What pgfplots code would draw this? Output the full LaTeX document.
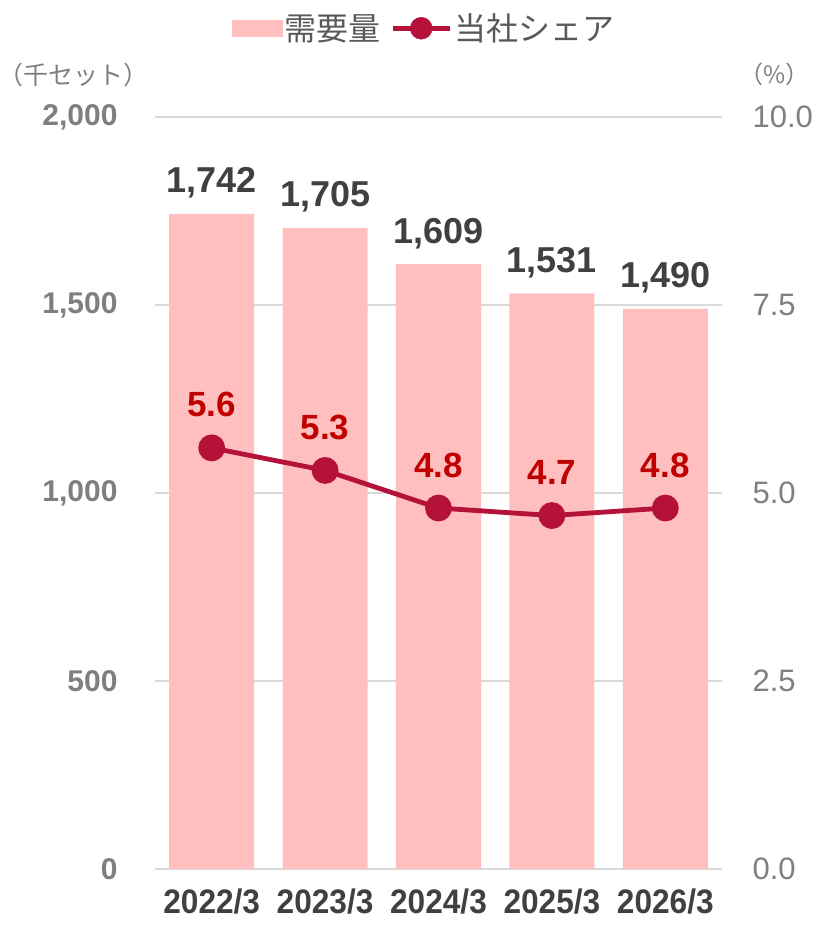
\documentclass[border=0pt]{standalone}
\usepackage{fontspec}
\setmainfont{Liberation Sans}
\newfontfamily\cjk{Noto Sans CJK JP}
\newfontfamily\narrowfont[FakeStretch=0.93]{Liberation Sans}
\usepackage{pgfplots}
\pgfplotsset{compat=1.18}
\definecolor{barpink}{HTML}{FFBFBF}
\definecolor{linered}{HTML}{B5123A}
\definecolor{lblred}{HTML}{C00000}
\definecolor{txtdark}{HTML}{404040}
\definecolor{tickgray}{HTML}{7F7F7F}
\definecolor{gridgray}{HTML}{D9D9D9}
\definecolor{leggray}{HTML}{595959}
\begin{document}
\begin{tikzpicture}
\path[use as bounding box] (-155pt,-56pt) rectangle (661pt,869pt);
\begin{axis}[
  at={(0pt,0pt)}, anchor=south west,
  scale only axis, width=567pt, height=752pt,
  xmin=-0.5, xmax=4.5, ymin=0, ymax=2000,
  xtick={0,1,2,3,4},
  xticklabels={2022/3,2023/3,2024/3,2025/3,2026/3},
  ytick={0,500,1000,1500,2000},
  ymajorgrids, grid style={gridgray, line width=1.2pt},
  axis line style={draw=none},
  major tick length=0pt,
  /pgf/number format/assume math mode=true,
  /pgf/number format/1000 sep={,},
  yticklabel style={font=\bfseries\fontsize{30}{30}\selectfont, text=tickgray, xshift=-34pt},
  xticklabel style={font=\narrowfont\bfseries\fontsize{34}{34}\selectfont, text=txtdark, yshift=-16pt},
  legend style={draw=none, fill=none, at={(axis description cs:0.474,1.118)}, anchor=center,
    legend columns=2, font=\cjk\fontsize{32}{32}\selectfont, text=leggray,
    /tikz/every even column/.append style={column sep=8pt}},
  clip=false,
]
\addplot[ybar, bar width=85pt, bar shift=0pt, fill=barpink, draw=none,
  legend image code/.code={\fill[barpink] (-2pt,-8.5pt) rectangle (49pt,8.5pt);},
  nodes near coords,
  nodes near coords style={font=\bfseries\fontsize{36}{36}\selectfont, text=txtdark, anchor=base, inner sep=0pt, yshift=21pt},
] coordinates {(0,1742) (1,1705) (2,1609) (3,1531) (4,1490)};
\addlegendentry{需要量}
\addlegendimage{legend image code/.code={\draw[linered, line width=4.5pt] (-4pt,0pt) -- (53pt,0pt); \fill[linered] (24.5pt,0pt) circle (11pt);}}
\addlegendentry{当社シェア}
\node[font=\cjk\fontsize{25}{25}\selectfont, text=tickgray, inner sep=0pt] at (axis description cs:-0.143,1.056) {（千セット）};
\node[font=\cjk\fontsize{24}{24}\selectfont, text=tickgray, inner sep=0pt] at (axis description cs:1.093,1.056) {（\%）};
\end{axis}
\begin{axis}[
  at={(0pt,0pt)}, anchor=south west,
  scale only axis, width=567pt, height=752pt,
  xmin=-0.5, xmax=4.5, ymin=0, ymax=10,
  axis y line*=right, axis x line=none,
  ytick={0,2.5,5,7.5,10},
  axis line style={draw=none},
  major tick length=0pt,
  /pgf/number format/assume math mode=true,
  yticklabel style={font=\fontsize{31}{31}\selectfont, text=tickgray, xshift=27pt,
    /pgf/number format/fixed, /pgf/number format/precision=1, /pgf/number format/fixed zerofill},
  clip=false,
]
\addplot[linered, line width=4.8pt, mark=*, mark size=11pt, mark options={fill=linered, draw=none},
  nodes near coords,
  nodes near coords style={font=\bfseries\fontsize{35}{35}\selectfont, text=lblred, anchor=base, inner sep=0pt, yshift=31pt,
    /pgf/number format/fixed, /pgf/number format/precision=1, /pgf/number format/fixed zerofill},
] coordinates {(0,5.6) (1,5.3) (2,4.8) (3,4.7) (4,4.8)};
\end{axis}
\end{tikzpicture}
\end{document}
